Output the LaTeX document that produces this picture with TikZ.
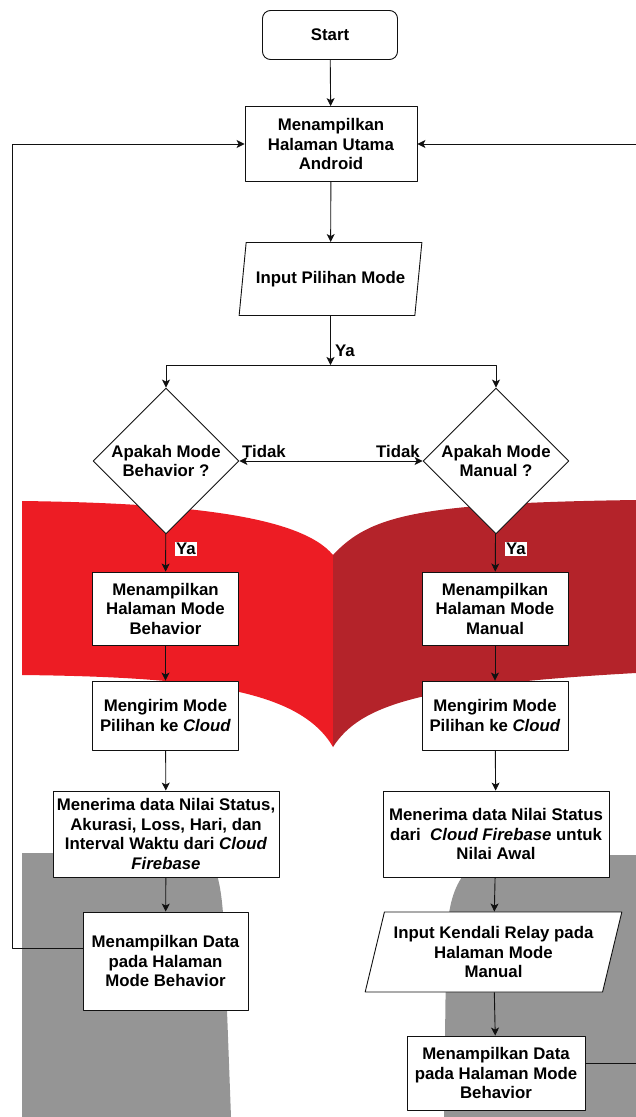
\documentclass[tikz,border=0pt]{standalone}
\usepackage{fontspec}
\setmainfont{Liberation Sans}
\usetikzlibrary{shapes.geometric,arrows.meta,positioning,calc}
\definecolor{pagered}{HTML}{ED1C24}
\definecolor{pagedark}{HTML}{B4232A}
\definecolor{shadegray}{HTML}{959595}
\definecolor{ink}{HTML}{111111}

\begin{document}
\begin{tikzpicture}[x=1pt,y=-1pt,line join=round,
  every node/.style={font=\fontsize{16.8}{19.5}\selectfont\bfseries,align=center,inner sep=2pt},
  box/.style={draw=ink,fill=white,line width=0.9pt,rectangle},
  startbox/.style={box,rounded corners=8pt},
  iobox/.style={draw=ink,fill=white,line width=0.9pt,trapezium,trapezium left angle=72,trapezium right angle=108,trapezium stretches=true},
  decision/.style={draw=ink,fill=white,line width=0.9pt,diamond,inner sep=0pt,minimum width=146pt,minimum height=146pt},
  flow/.style={draw=ink,line width=0.9pt,-{Stealth[length=8pt,width=8pt,inset=2pt]}},
  both/.style={draw=ink,line width=0.9pt,{Stealth[length=8pt,width=8pt,inset=2pt]}-{Stealth[length=8pt,width=8pt,inset=2pt]}},
  lbl/.style={fill=white,inner sep=1pt}]
  \useasboundingbox (0,0) rectangle (636,1117);
  % open book and grey shapes behind
  \fill[pagered] (22,501) .. controls (180,503) and (300,515) .. (333,555) -- (333,747) .. controls (300,690) and (200,677) .. (22,675) -- cycle;
  \fill[pagedark] (333,555) .. controls (370,515) and (420,503) .. (636,500) -- (636,673) .. controls (420,685) and (360,705) .. (333,747) -- cycle;
  \fill[shadegray] (22,1117) -- (22,853) -- (200,853) .. controls (216,856) and (222,885) .. (224,930) -- (231,1117) -- cycle;
  \fill[shadegray] (444,1117) -- (446,960) .. controls (446,900) and (455,862) .. (500,855) -- (636,855) -- (636,1117) -- cycle;
  % nodes
  \node[startbox,minimum width=135pt,minimum height=49pt] (start) at (330,35) {Start};
  \node[box,minimum width=172pt,minimum height=75pt] (main) at (331,144) {Menampilkan\\Halaman Utama\\Android};
  \node[iobox,minimum width=183pt,minimum height=73pt] (inp) at (330.5,279) {Input Pilihan Mode};
  \coordinate (split) at (330.5,365);
  \node[decision] (dl) at (166,461) {Apakah Mode\\Behavior ?};
  \node[decision] (dr) at (496,461) {Apakah Mode\\Manual ?};
  \node[box,minimum width=146pt,minimum height=73pt] (lb1) at (165.5,608.5) {Menampilkan\\Halaman Mode\\Behavior};
  \node[box,minimum width=146pt,minimum height=73pt] (rb1) at (495,608.5) {Menampilkan\\Halaman Mode\\Manual};
  \node[box,minimum width=146pt,minimum height=69pt] (lb2) at (165.5,715.5) {Mengirim Mode\\Pilihan ke \textit{Cloud}};
  \node[box,minimum width=146pt,minimum height=69pt] (rb2) at (495,715.5) {Mengirim Mode\\Pilihan ke \textit{Cloud}};
  \node[box,minimum width=226pt,minimum height=86pt] (lb3) at (166,834) {Menerima data Nilai Status,\\Akurasi, Loss, Hari, dan\\Interval Waktu dari \textit{Cloud}\\\textit{Firebase}};
  \node[box,minimum width=226pt,minimum height=86pt] (rb3) at (496,834) {Menerima data Nilai Status\\dari\ \ \textit{Cloud Firebase} untuk\\Nilai Awal};
  \node[box,minimum width=165pt,minimum height=98pt] (lb4) at (165.5,961) {Menampilkan Data\\pada Halaman\\Mode Behavior};
  \node[iobox,minimum width=257pt,minimum height=80pt] (inp2) at (493.5,952) {Input Kendali Relay pada\\Halaman Mode\\Manual};
  \node[box,minimum width=178pt,minimum height=74pt] (rb4) at (496,1073) {Menampilkan Data\\pada Halaman Mode\\Behavior};
  \coordinate (loopL) at (12,948);\coordinate (loopR) at (640,1063);
  % connectors
  \draw[flow] (start) -- (main);
  \draw[flow] (main) -- (inp);
  \draw[flow] (inp) -- (split);
  \draw[flow] (split) -| (dl);
  \draw[flow] (split) -| (dr);
  \draw[both] (dl) -- (dr);
  \foreach \a/\b in {dl/lb1,lb1/lb2,lb2/lb3,lb3/lb4,dr/rb1,rb1/rb2,rb2/rb3,rb3/inp2,inp2/rb4}{\draw[flow] (\a) -- (\b);}
  \draw[flow] ([yshift=13pt]lb4.west) -- (loopL) |- (main.west);
  \draw[flow] ([yshift=10pt]rb4.east) -- (loopR) |- (main.east);
  % labels
  \node[anchor=west,inner sep=1pt] (yamain) at (334,351) {Ya};
  \node[lbl,anchor=west] (yal) at (175,549) {Ya};
  \node[lbl,anchor=west] (yar) at (505,549) {Ya};
  \node[anchor=west,inner sep=1pt] (tdl) at (241,451) {Tidak};
  \node[anchor=east,inner sep=1pt] (tdr) at (421,451) {Tidak};
\end{tikzpicture}
\end{document}
